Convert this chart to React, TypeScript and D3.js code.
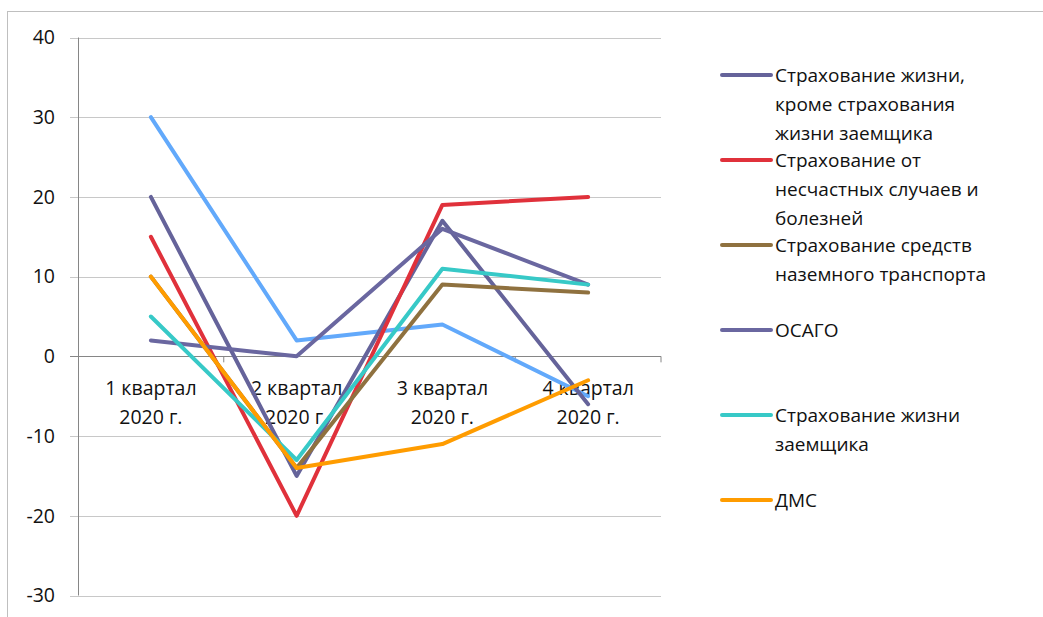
import React from "react";
import * as d3 from "d3";

const categories = ["1 квартал|2020 г.", "2 квартал|2020 г.", "3 квартал|2020 г.", "4 квартал|2020 г."];
const yTicks = [-30, -20, -10, 0, 10, 20, 30, 40];

const lifeExBorrower = [20, -15, 17, -6];
const accidents = [15, -20, 19, 20];
const groundTransport = [10, -14, 9, 8];
const osago = [2, 0, 16, 9];
const borrowerLife = [5, -13, 11, 9];
const dms = [10, -14, -11, -3];
const otherSeries = [30, 2, 4, -5];

const seriesNames = [
  ["Страхование жизни,", "кроме страхования", "жизни заемщика"],
  ["Страхование от", "несчастных случаев и", "болезней"],
  ["Страхование средств", "наземного транспорта"],
  ["ОСАГО"],
  ["Страхование жизни", "заемщика"],
  ["ДМС"],
];

const series = [
  { values: otherSeries, color: "#62A9FB", legend: -1 },
  { values: lifeExBorrower, color: "#65639A", legend: 0 },
  { values: accidents, color: "#E0313B", legend: 1 },
  { values: groundTransport, color: "#8F713F", legend: 2 },
  { values: osago, color: "#6A67A0", legend: 3 },
  { values: borrowerLife, color: "#37C9C7", legend: 4 },
  { values: dms, color: "#FF9C00", legend: 5 },
];

const W = 1043;
const H = 617;
const FONT = "'Open Sans', sans-serif";

export default function App() {
  const x = d3.scaleBand<number>().domain([0, 1, 2, 3]).range([78, 661]);
  const y = d3.scaleLinear().domain([-30, 40]).range([595.5, 37.5]);
  const cx = (i: number) => (x(i) as number) + x.bandwidth() / 2;
  const line = d3
    .line<number>()
    .x((_, i) => cx(i))
    .y((d) => y(d));
  const boundaries = [0, 1, 2, 3].map((i) => (x(i) as number) + x.bandwidth());

  return (
    <svg
      width={W}
      height={H}
      style={{ position: "absolute", left: 0, top: 0, background: "#fff" }}
      fontFamily={FONT}
    >
      <rect x={7.5} y={11.5} width={W + 10} height={H + 10} fill="#fff" stroke="#BFBFBF" />
      {yTicks.map((t) => (
        <g key={t}>
          <line
            x1={70}
            x2={661}
            y1={Math.round(y(t)) + 0.5}
            y2={Math.round(y(t)) + 0.5}
            stroke={t === 0 ? "#868686" : "#C8C8C8"}
            strokeWidth={1}
          />
          <text x={55} y={y(t)} dy="0.35em" textAnchor="end" fontSize={19.5} fill="#111">
            {t}
          </text>
        </g>
      ))}
      <line x1={78.5} x2={78.5} y1={y(40)} y2={y(-30)} stroke="#868686" />
      {boundaries.map((b, i) => (
        <line key={i} x1={b} x2={b} y1={y(0)} y2={y(0) + 6} stroke="#868686" />
      ))}
      {categories.map((c, i) => (
        <text key={i} x={cx(i)} textAnchor="middle" fontSize={19.5} fill="#111">
          {c.split("|").map((l, j) => (
            <tspan key={j} x={cx(i)} y={395 + j * 29}>
              {l}
            </tspan>
          ))}
        </text>
      ))}
      {series.map((s, i) => (
        <path
          key={i}
          d={line(s.values) as string}
          fill="none"
          stroke={s.color}
          strokeWidth={4}
          strokeLinejoin="round"
          strokeLinecap="round"
        />
      ))}
      {series
        .filter((s) => s.legend >= 0)
        .map((s) => {
          const ly = 75 + s.legend * 85;
          return (
            <g key={s.legend}>
              <line x1={722} x2={771} y1={ly} y2={ly} stroke={s.color} strokeWidth={4} strokeLinecap="round" />
              <text fontSize={19} fill="#111">
                {seriesNames[s.legend].map((l, j) => (
                  <tspan key={j} x={775} y={ly + j * 29} dy="0.35em">
                    {l}
                  </tspan>
                ))}
              </text>
            </g>
          );
        })}
    </svg>
  );
}
